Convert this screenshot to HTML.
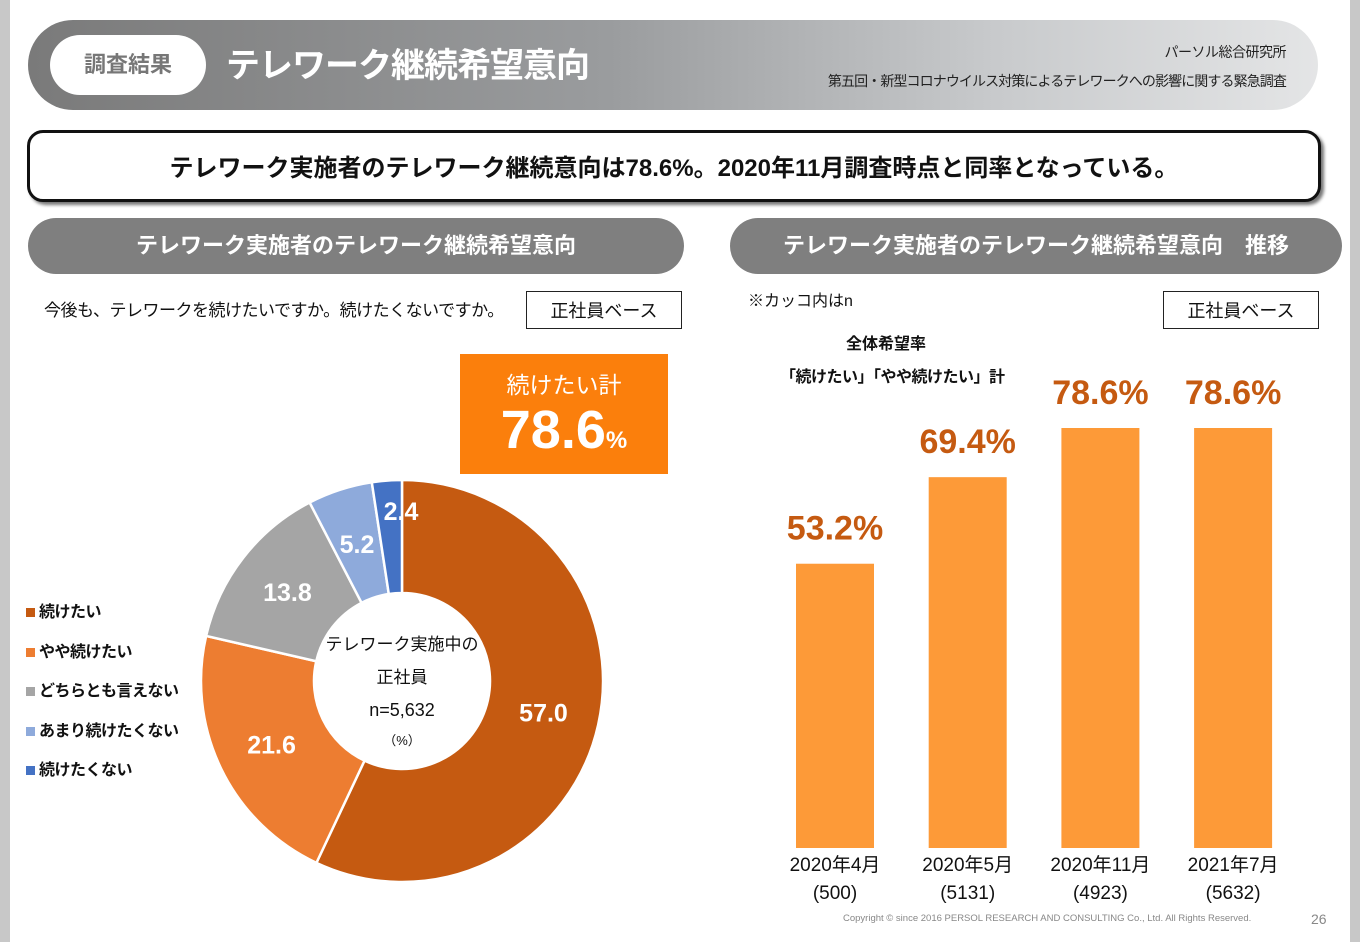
<!DOCTYPE html>
<html><head><meta charset="utf-8">
<style>
body{margin:0;width:1360px;height:942px;position:relative;background:#fff;font-family:"Liberation Sans","Noto Sans CJK JP",sans-serif;overflow:hidden;color:#111}
.a{position:absolute}
.pill{border-radius:30px;background:#7f7f7f;color:#fff;font-weight:bold;text-align:center}
.box{border:1.5px solid #222;background:#fff;text-align:center;font-size:18px}
</style></head><body>
<div class="a" style="left:0;top:0;width:10px;height:942px;background:#c8c8c8"></div>
<div class="a" style="left:1350px;top:0;width:10px;height:942px;background:#c8c8c8"></div>
<div class="a" style="left:28px;top:20px;width:1290px;height:90px;border-radius:45px;background:linear-gradient(90deg,#7a7a7a 0%,#9a9c9e 45%,#c8cacc 75%,#e4e5e6 100%)"></div>
<div class="a" style="left:50px;top:35px;width:156px;height:60px;border-radius:30px;background:#fff;color:#777;font-weight:bold;font-size:22px;line-height:60px;text-align:center">調査結果</div>
<div class="a" style="left:226px;top:42px;color:#fff;font-weight:bold;font-size:34px;line-height:48px;letter-spacing:-1px">テレワーク継続希望意向</div>
<div class="a" style="right:74px;top:42px;font-size:14px;color:#222;letter-spacing:-0.5px">パーソル総合研究所</div>
<div class="a" style="right:74px;top:71px;font-size:14px;color:#222;letter-spacing:-0.9px">第五回・新型コロナウイルス対策によるテレワークへの影響に関する緊急調査</div>
<div class="a" style="left:27px;top:130px;width:1288px;height:66px;border:3px solid #111;border-radius:16px;box-shadow:3px 3px 3px #777;background:#fff;text-align:center;font-weight:bold;font-size:24px;line-height:72px">テレワーク実施者のテレワーク継続意向は78.6%。2020年11月調査時点と同率となっている。</div>
<div class="a pill" style="left:28px;top:218px;width:656px;height:56px;line-height:56px;font-size:22px">テレワーク実施者のテレワーク継続希望意向</div>
<div class="a pill" style="left:730px;top:218px;width:612px;height:56px;line-height:56px;font-size:22px">テレワーク実施者のテレワーク継続希望意向　推移</div>
<div class="a" style="left:44px;top:296px;font-size:17px;letter-spacing:-0.5px">今後も、テレワークを続けたいですか。続けたくないですか。</div>
<div class="a box" style="left:526px;top:291px;width:154px;height:36px;line-height:38px">正社員ベース</div>
<div class="a" style="left:748px;top:287px;font-size:16px">※カッコ内はn</div>
<div class="a box" style="left:1163px;top:291px;width:154px;height:36px;line-height:38px">正社員ベース</div>
<div class="a" style="left:846px;top:330px;font-size:16px;font-weight:bold">全体希望率</div>
<div class="a" style="left:780px;top:363px;font-size:16px;font-weight:bold;letter-spacing:-0.5px">「続けたい」「やや続けたい」計</div>
<div class="a" style="left:460px;top:354px;width:208px;height:120px;background:#fb7f0c;color:#fff;text-align:center">
<div style="font-size:23px;margin-top:12px">続けたい計</div>
<div style="font-size:54px;font-weight:bold;line-height:60px">78.6<span style="font-size:24px">%</span></div></div>
<div class="a" style="left:26px;top:593px;font-size:16px;font-weight:bold;line-height:39.5px;letter-spacing:-0.5px" id="legend"></div>
<svg class="a" style="left:0;top:0" width="1360" height="942" id="chart"></svg>
<div class="a" style="left:843px;top:913px;font-size:9.5px;color:#888">Copyright © since 2016  PERSOL  RESEARCH AND CONSULTING Co., Ltd. All Rights Reserved.</div>
<div class="a" style="left:1311px;top:911px;font-size:14px;color:#888">26</div>
<script>
const pieLabels=["続けたい","やや続けたい","どちらとも言えない","あまり続けたくない","続けたくない"];
const pieValues=[57.0,21.6,13.8,5.2,2.4];
const pieColors=["#c55a11","#ed7d31","#a5a5a5","#8eaadb","#4472c4"];
const barCats=["2020年4月","2020年5月","2020年11月","2021年7月"];
const barNs=["(500)","(5131)","(4923)","(5632)"];
const barValues=[53.2,69.4,78.6,78.6];
const NS="http://www.w3.org/2000/svg";
const svg=document.getElementById('chart');
function mk(t,a){const e=document.createElementNS(NS,t);for(const k in a)e.setAttribute(k,a[k]);svg.appendChild(e);return e;}
const cx=402,cy=681,R=201,r=88;
const total=pieValues.reduce((s,v)=>s+v,0);
let ang=0;
function pt(a,rad){return [cx+rad*Math.sin(a),cy-rad*Math.cos(a)];}
pieValues.forEach((v,i)=>{
 const a0=ang/total*2*Math.PI,a1=(ang+v)/total*2*Math.PI;ang+=v;
 const lg=(a1-a0)>Math.PI?1:0;
 const [x0,y0]=pt(a0,R),[x1,y1]=pt(a1,R),[x2,y2]=pt(a1,r),[x3,y3]=pt(a0,r);
 const p=mk('path',{d:`M${x0},${y0}A${R},${R} 0 ${lg} 1 ${x1},${y1}L${x2},${y2}A${r},${r} 0 ${lg} 0 ${x3},${y3}Z`,fill:pieColors[i],stroke:'#fff','stroke-width':2.5});
 
 
 const m=(a0+a1)/2;let [lx,ly]=pt(m,145);
 if(i==3){lx=cx-45;ly=cy-137;}
 if(i==4){lx=cx-1;ly=cy-170;}
 const t=mk('text',{x:lx,y:ly+9,'text-anchor':'middle',fill:'#fff','font-size':25,'font-weight':'bold'});
 t.textContent=v.toFixed(1);
 
 
});
[["テレワーク実施中の",650,17],["正社員",683,17],["n=5,632",716,18],["（%）",745,13]].forEach((c,i)=>{
 const t=mk('text',{x:cx,y:c[1],'text-anchor':'middle','font-size':c[2],fill:'#111'});t.textContent=c[0];
 
 
});
const lg=document.getElementById('legend');
pieLabels.forEach((l,i)=>{const d=document.createElement('div');
 
 
 d.innerHTML=`<span style="display:inline-block;width:9px;height:9px;background:${pieColors[i]};margin-right:4px"></span>${l}`;lg.appendChild(d);});
const base=848,scale=420/78.6,x0=835,step=132.7,bw=78;
barValues.forEach((v,i)=>{
 const cxb=x0+i*step,h=v*scale;
 const b=mk('rect',{x:cxb-bw/2,y:base-h,width:bw,height:h,fill:'#fd9a38'});
 
 
 const t=mk('text',{x:cxb,y:base-h-24,'text-anchor':'middle',fill:'#c55a11','font-size':34,'font-weight':'bold'});t.textContent=v.toFixed(1)+'%';
 
 
 const c=mk('text',{x:cxb,y:871,'text-anchor':'middle','font-size':19,fill:'#111'});c.textContent=barCats[i];
 
 
 const n=mk('text',{x:cxb,y:899,'text-anchor':'middle','font-size':19,fill:'#111'});n.textContent=barNs[i];
 
 
});
</script>
</body></html>
